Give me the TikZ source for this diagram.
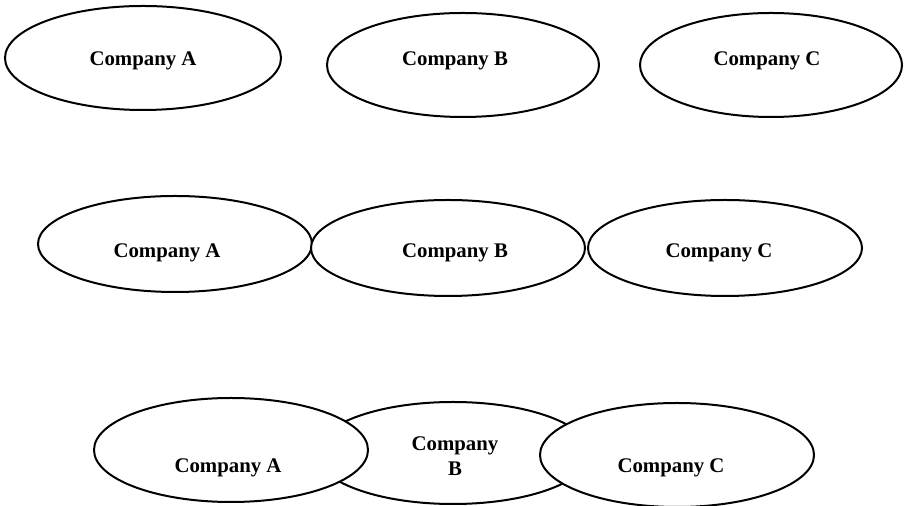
\documentclass[tikz,border=0pt]{standalone}
\usepackage{fontspec}
\setmainfont{Liberation Serif}
\usetikzlibrary{shapes.geometric}
\tikzstyle{company}=[ellipse,draw=black,fill=white,line width=1pt,inner sep=0pt,minimum width=137pt,minimum height=52pt]
\tikzstyle{cname}=[font=\fontsize{10.4}{12.5}\selectfont\bfseries,align=center,inner sep=0pt]

\begin{document}
\begin{tikzpicture}[x=0.5pt,y=-0.5pt]
\useasboundingbox (0,0) rectangle (904,506);

%Separate
    \foreach \pos/\name/\w in {{(143,58)/a1/138pt}, {(463,65)/b1/136pt}, {(771,65)/c1/131pt}}
        \node[company,minimum width=\w] (\name) at \pos {};
    \foreach \pos/\name/\txt in {{(143,61)/ta1/Company A}, {(455,61)/tb1/Company B}, {(767,61)/tc1/Company C}}
        \node[cname] (\name) at \pos {\txt};

%Touching
    \foreach \pos/\name in {{(175,244)/a2}, {(448,248)/b2}, {(725,248)/c2}}
        \node[company,minimum height=48pt] (\name) at \pos {};
    \foreach \pos/\name/\txt in {{(167,253)/ta2/Company A}, {(455,253)/tb2/Company B}, {(719,253)/tc2/Company C}}
        \node[cname] (\name) at \pos {\txt};

%Overlapping
    \node[company,minimum height=51pt] (b3) at (453,453) {};
    \foreach \pos/\name in {{(231,450)/a3}, {(677,455)/c3}}
        \node[company] (\name) at \pos {};
    \foreach \pos/\name/\txt in {{(228,468)/ta3/Company A}, {(455,456)/tb3/{Company\\B}}, {(671,468)/tc3/Company C}}
        \node[cname] (\name) at \pos {\txt};

\end{tikzpicture}
\end{document}
